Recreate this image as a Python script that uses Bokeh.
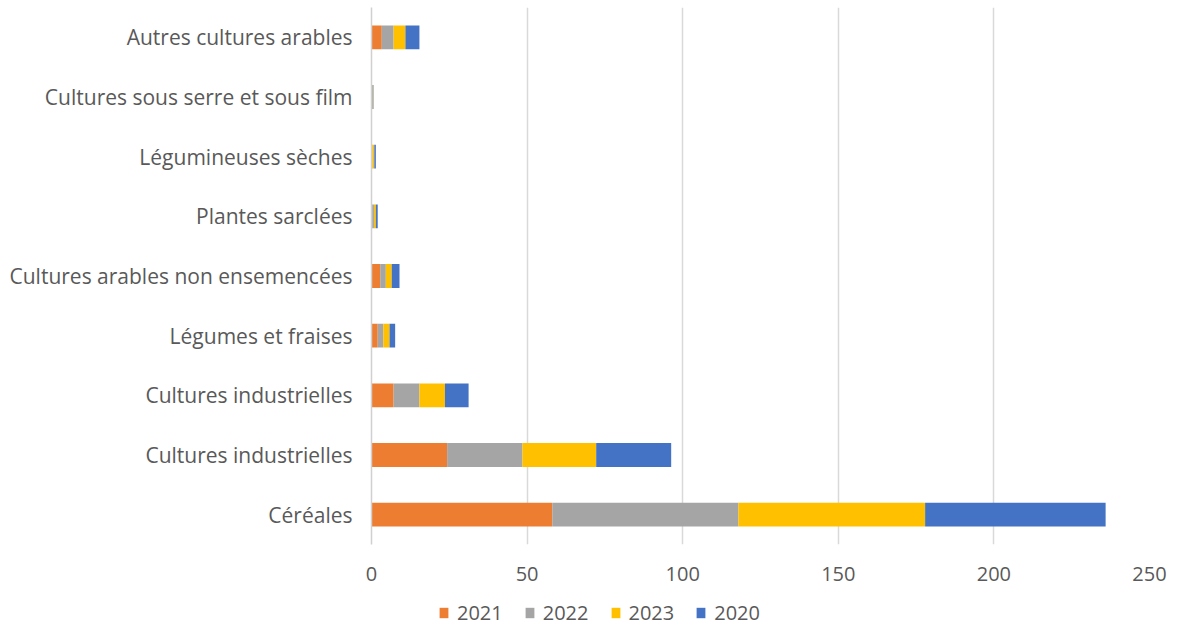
from bokeh.plotting import figure
from bokeh.layouts import column
from bokeh.models import ColumnDataSource, FixedTicker, Legend, LegendItem, Range1d
from bokeh.embed import file_html
from bokeh.resources import INLINE

categories = [
    "Céréales",
    "Cultures industrielles",
    "Cultures industrielles",
    "Légumes et fraises",
    "Cultures arables non ensemencées",
    "Plantes sarclées",
    "Légumineuses sèches",
    "Cultures sous serre et sous film",
    "Autres cultures arables",
]
years = ["2021", "2022", "2023", "2020"]
v2021 = [58.1, 24.3, 7.1, 2.0, 2.8, 0.2, 0.1, 0.2, 3.3]
v2022 = [59.8, 24.2, 8.3, 1.8, 1.8, 0.6, 0.2, 0.3, 3.8]
v2023 = [60.0, 23.7, 8.2, 2.0, 1.9, 0.6, 0.6, 0.1, 3.8]
v2020 = [58.0, 24.1, 7.6, 1.8, 2.5, 0.6, 0.5, 0.1, 4.5]
colors = ["#ED7D31", "#A5A5A5", "#FFC000", "#4472C4"]
x_ticks = [0, 50, 100, 150, 200, 250]

pos = list(range(len(categories)))
source = ColumnDataSource(dict(y=pos, y2021=v2021, y2022=v2022, y2023=v2023, y2020=v2020))

font = "Open Sans"
lab_col = "#595959"

p = figure(width=1167, height=596, output_backend="svg", toolbar_location=None,
           x_range=Range1d(0, 250), y_range=Range1d(-0.5, 8.5),
           min_border_left=371, min_border_right=18, min_border_top=7, min_border_bottom=52)
p.outline_line_color = None
p.background_fill_color = "white"

stack_cols = ["y2021", "y2022", "y2023", "y2020"]
rs = p.hbar_stack(stack_cols, y="y", height=0.4, color=colors, line_color=None, source=source)

p.yaxis.ticker = FixedTicker(ticks=pos)
p.yaxis.major_label_overrides = {i: c for i, c in enumerate(categories)}
p.yaxis.major_tick_line_color = None
p.yaxis.minor_tick_line_color = None
p.yaxis.axis_line_color = "#D0D0D0"
p.yaxis.axis_line_width = 1.5
p.yaxis.major_label_standoff = 13
p.yaxis.major_label_text_font = font
p.yaxis.major_label_text_font_size = "21px"
p.yaxis.major_label_text_color = lab_col

p.xaxis.ticker = FixedTicker(ticks=x_ticks)
p.xaxis.axis_line_color = None
p.xaxis.major_tick_line_color = None
p.xaxis.minor_tick_line_color = None
p.xaxis.major_label_standoff = 16
p.xaxis.major_label_text_font = font
p.xaxis.major_label_text_font_size = "20px"
p.xaxis.major_label_text_color = lab_col

p.ygrid.grid_line_color = None
p.xgrid.grid_line_color = "#D9D9D9"
p.xgrid.grid_line_width = 1.5

# legend-only strip below the chart (frames are aligned with the main chart)
pl = figure(width=1167, height=30, output_backend="svg", toolbar_location=None,
            x_range=Range1d(0, 1), y_range=Range1d(0, 1),
            x_axis_type=None, y_axis_type=None,
            min_border_left=371, min_border_right=18, min_border_top=0, min_border_bottom=0)
pl.outline_line_color = None
pl.xgrid.visible = False
pl.ygrid.visible = False
dummy = [pl.hbar(y=[-10], right=[1], height=0.4, color=c, line_color=None) for c in colors]

legend = Legend(items=[LegendItem(label=yr, renderers=[r]) for yr, r in zip(years, dummy)],
                orientation="horizontal", location=(67, 0))
legend.border_line_color = None
legend.background_fill_alpha = 0
legend.glyph_width = 11
legend.glyph_height = 13
legend.label_standoff = 8
legend.spacing = 21
legend.padding = 2
legend.margin = 0
legend.label_text_font = font
legend.label_text_font_size = "20px"
legend.label_text_color = lab_col
pl.add_layout(legend, "center")

layout = column(p, pl, spacing=0)
open("out.html", "w").write(file_html(layout, INLINE))
